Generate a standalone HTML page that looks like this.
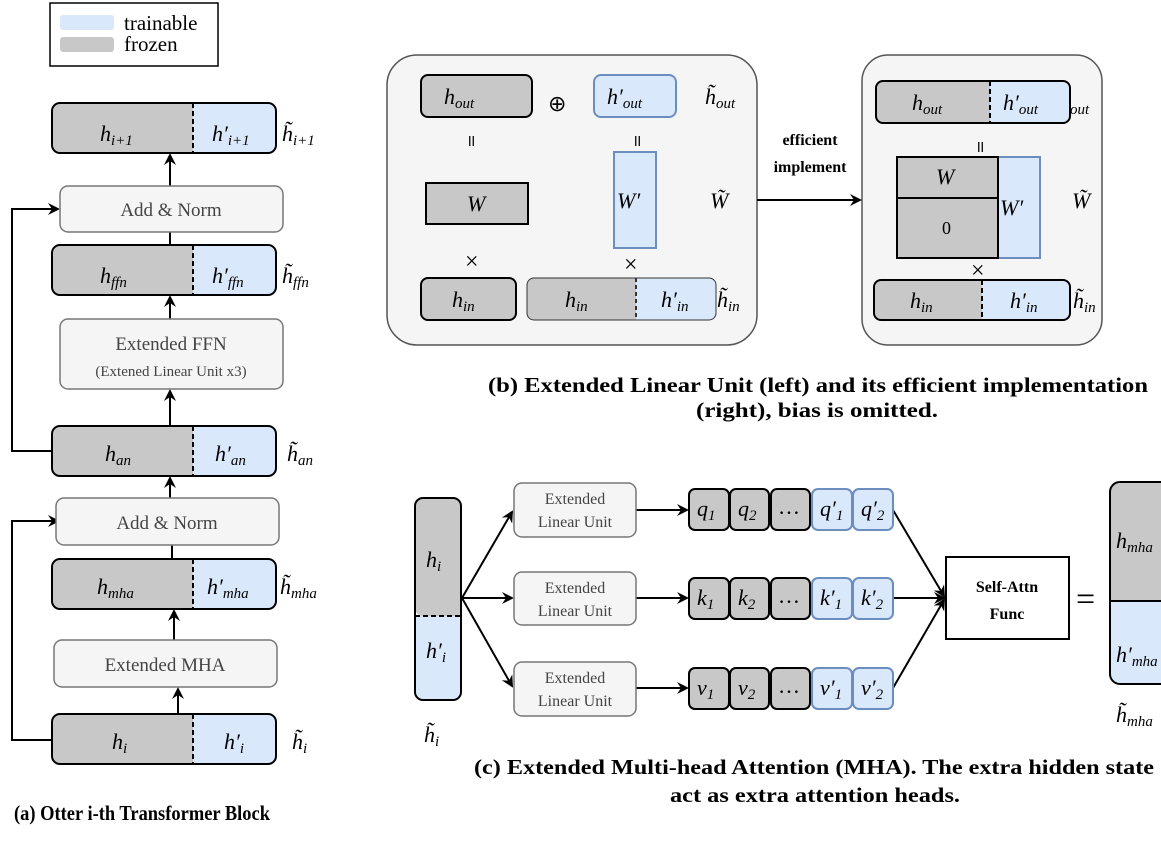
<!DOCTYPE html>
<html><head><meta charset="utf-8"><style>
body{margin:0;background:#fff}
svg text{font-family:"Liberation Serif",serif}
.m{font-style:italic;font-size:22px}
.s{font-size:15px}
.t{fill:#444;font-size:19px}
.b{font-weight:bold;font-size:21px}
</style></head><body>
<svg width="1161" height="836" viewBox="0 0 1161 836" xmlns="http://www.w3.org/2000/svg">
<defs><marker id="a" markerWidth="12" markerHeight="12" refX="10" refY="6" orient="auto" markerUnits="userSpaceOnUse"><path d="M0,0 L12,6 L0,12 L4,6 z" fill="#000"/></marker></defs>
<!-- legend -->
<rect x="50" y="3" width="168" height="63" fill="#fff" stroke="#000" stroke-width="1.5"/>
<rect x="60" y="15" width="54" height="15" rx="3" fill="#dae8fc"/>
<rect x="60" y="37" width="54" height="15" rx="3" fill="#c8c8c8"/>
<text x="124" y="30" font-size="21">trainable</text>
<text x="124" y="51" font-size="21">frozen</text>

<!-- panel a -->
<g stroke="#000" stroke-width="2" fill="none">
<path d="M52,740 H12 V521 H58" marker-end="url(#a)"/>
<path d="M52,451 H12 V209 H58" marker-end="url(#a)"/>
<path d="M178,714 V689" marker-end="url(#a)"/>
<path d="M174,640 V611" marker-end="url(#a)"/>
<path d="M172,559 V545"/>
<path d="M170,498 V478" marker-end="url(#a)"/>
<path d="M170,426 V391" marker-end="url(#a)"/>
<path d="M170,319 V297" marker-end="url(#a)"/>
<path d="M170,245 V232"/>
<path d="M170,186 V155" marker-end="url(#a)"/>
</g>
<g stroke-width="2">
<g>
<path d="M193,103 H60 a8,8 0 0 0 -8,8 V145 a8,8 0 0 0 8,8 H193z" fill="#c8c8c8"/><path d="M193,103 H268 a8,8 0 0 1 8,8 V145 a8,8 0 0 1 -8,8 H193z" fill="#dae8fc"/>
<rect x="52" y="103" width="224" height="50" rx="8" fill="none" stroke="#000"/><line x1="193" y1="103" x2="193" y2="153" stroke="#000" stroke-dasharray="5,3"/>
</g>
<g transform="translate(0,142)">
<path d="M193,103 H60 a8,8 0 0 0 -8,8 V145 a8,8 0 0 0 8,8 H193z" fill="#c8c8c8"/><path d="M193,103 H268 a8,8 0 0 1 8,8 V145 a8,8 0 0 1 -8,8 H193z" fill="#dae8fc"/>
<rect x="52" y="103" width="224" height="50" rx="8" fill="none" stroke="#000"/><line x1="193" y1="103" x2="193" y2="153" stroke="#000" stroke-dasharray="5,3"/>
</g>
<g transform="translate(0,323)">
<path d="M193,103 H60 a8,8 0 0 0 -8,8 V145 a8,8 0 0 0 8,8 H193z" fill="#c8c8c8"/><path d="M193,103 H268 a8,8 0 0 1 8,8 V145 a8,8 0 0 1 -8,8 H193z" fill="#dae8fc"/>
<rect x="52" y="103" width="224" height="50" rx="8" fill="none" stroke="#000"/><line x1="193" y1="103" x2="193" y2="153" stroke="#000" stroke-dasharray="5,3"/>
</g>
<g transform="translate(0,456)">
<path d="M193,103 H60 a8,8 0 0 0 -8,8 V145 a8,8 0 0 0 8,8 H193z" fill="#c8c8c8"/><path d="M193,103 H268 a8,8 0 0 1 8,8 V145 a8,8 0 0 1 -8,8 H193z" fill="#dae8fc"/>
<rect x="52" y="103" width="224" height="50" rx="8" fill="none" stroke="#000"/><line x1="193" y1="103" x2="193" y2="153" stroke="#000" stroke-dasharray="5,3"/>
</g>
<g transform="translate(0,611)">
<path d="M193,103 H60 a8,8 0 0 0 -8,8 V145 a8,8 0 0 0 8,8 H193z" fill="#c8c8c8"/><path d="M193,103 H268 a8,8 0 0 1 8,8 V145 a8,8 0 0 1 -8,8 H193z" fill="#dae8fc"/>
<rect x="52" y="103" width="224" height="50" rx="8" fill="none" stroke="#000"/><line x1="193" y1="103" x2="193" y2="153" stroke="#000" stroke-dasharray="5,3"/>
</g>
</g>
<g fill="#f5f5f5" stroke="#777" stroke-width="1.5">
<rect x="60" y="186" width="223" height="46" rx="8"/>
<rect x="60" y="319" width="223" height="70" rx="8"/>
<rect x="56" y="498" width="223" height="47" rx="8"/>
<rect x="54" y="640" width="223" height="47" rx="8"/>
</g>
<text class="t" x="171" y="216" text-anchor="middle">Add &amp; Norm</text>
<text class="t" x="171" y="350" text-anchor="middle">Extended FFN</text>
<text x="171" y="376" text-anchor="middle" font-size="15" fill="#444">(Extened Linear Unit x3)</text>
<text class="t" x="167" y="529" text-anchor="middle">Add &amp; Norm</text>
<text class="t" x="165" y="671" text-anchor="middle">Extended MHA</text>
<g class="m">
<text x="100" y="141">h<tspan class="s" dy="4">i+1</tspan></text>
<text x="212" y="141">h′<tspan class="s" dy="4">i+1</tspan></text>
<text x="282" y="141">h̃<tspan class="s" dy="4">i+1</tspan></text>
<text x="100" y="283">h<tspan class="s" dy="4">ffn</tspan></text>
<text x="212" y="283">h′<tspan class="s" dy="4">ffn</tspan></text>
<text x="282" y="283">h̃<tspan class="s" dy="4">ffn</tspan></text>
<text x="105" y="461">h<tspan class="s" dy="4">an</tspan></text>
<text x="215" y="461">h′<tspan class="s" dy="4">an</tspan></text>
<text x="287" y="461">h̃<tspan class="s" dy="4">an</tspan></text>
<text x="97" y="594">h<tspan class="s" dy="4">mha</tspan></text>
<text x="207" y="594">h′<tspan class="s" dy="4">mha</tspan></text>
<text x="280" y="594">h̃<tspan class="s" dy="4">mha</tspan></text>
<text x="112" y="749">h<tspan class="s" dy="4">i</tspan></text>
<text x="224" y="749">h′<tspan class="s" dy="4">i</tspan></text>
<text x="292" y="749">h̃<tspan class="s" dy="4">i</tspan></text>
</g>
<text class="b" x="14" y="820" textLength="256" lengthAdjust="spacingAndGlyphs">(a) Otter i-th Transformer Block</text>

<!-- panel b -->
<rect x="387" y="55" width="370" height="290" rx="30" fill="#f5f5f5" stroke="#555" stroke-width="1.5"/>
<rect x="862" y="55" width="240" height="290" rx="26" fill="#f5f5f5" stroke="#555" stroke-width="1.5"/>
<path d="M757,200 H860" stroke="#000" stroke-width="2" marker-end="url(#a)"/>
<text x="810" y="145" text-anchor="middle" font-size="16" font-weight="bold">efficient</text>
<text x="810" y="172" text-anchor="middle" font-size="16" font-weight="bold">implement</text>
<g stroke-width="2">
<rect x="421" y="75" width="111" height="42" rx="7" fill="#c8c8c8" stroke="#000"/>
<rect x="594" y="75" width="82" height="42" rx="7" fill="#dae8fc" stroke="#6c8ebf"/>
<rect x="426" y="183" width="102" height="41" fill="#c8c8c8" stroke="#000"/>
<rect x="614" y="152" width="42" height="96" fill="#dae8fc" stroke="#6c8ebf"/>
<rect x="421" y="278" width="95" height="42" rx="7" fill="#c8c8c8" stroke="#000"/>
<path d="M636,278 H534 a7,7 0 0 0 -7,7 V313 a7,7 0 0 0 7,7 H636z" fill="#c8c8c8"/>
<path d="M636,278 H709 a7,7 0 0 1 7,7 V313 a7,7 0 0 1 -7,7 H636z" fill="#dae8fc"/>
<rect x="527" y="278" width="189" height="42" rx="7" fill="none" stroke="#333" stroke-width="1"/>
<line x1="636" y1="278" x2="636" y2="320" stroke="#333" stroke-dasharray="4,3"/>
<path d="M990,81 H883 a7,7 0 0 0 -7,7 V116 a7,7 0 0 0 7,7 H990z" fill="#c8c8c8"/>
<path d="M990,81 H1063 a7,7 0 0 1 7,7 V116 a7,7 0 0 1 -7,7 H990z" fill="#dae8fc"/>
<rect x="876" y="81" width="194" height="42" rx="7" fill="none" stroke="#000"/>
<line x1="990" y1="81" x2="990" y2="123" stroke="#000" stroke-dasharray="5,3"/>
<rect x="998" y="157" width="42" height="101" fill="#dae8fc" stroke="#6c8ebf"/>
<rect x="897" y="157" width="101" height="41" fill="#c8c8c8" stroke="#000"/>
<rect x="897" y="198" width="101" height="60" fill="#c8c8c8" stroke="#000"/>
<path d="M982,280 H881 a7,7 0 0 0 -7,7 V313 a7,7 0 0 0 7,7 H982z" fill="#c8c8c8"/>
<path d="M982,280 H1063 a7,7 0 0 1 7,7 V313 a7,7 0 0 1 -7,7 H982z" fill="#dae8fc"/>
<rect x="874" y="280" width="196" height="40" rx="7" fill="none" stroke="#000"/>
<line x1="982" y1="280" x2="982" y2="320" stroke="#000" stroke-dasharray="5,3"/>
</g>
<g class="m">
<text x="444" y="104">h<tspan class="s" dy="4">out</tspan></text>
<text x="607" y="104">h′<tspan class="s" dy="4">out</tspan></text>
<text x="705" y="104">h̃<tspan class="s" dy="4">out</tspan></text>
<text x="467" y="211">W</text><text x="617" y="208">W′</text><text x="710" y="208">W̃</text>
<text x="452" y="307">h<tspan class="s" dy="4">in</tspan></text>
<text x="565" y="307">h<tspan class="s" dy="4">in</tspan></text>
<text x="661" y="307">h′<tspan class="s" dy="4">in</tspan></text>
<text x="717" y="307">h̃<tspan class="s" dy="4">in</tspan></text>
<text x="912" y="110">h<tspan class="s" dy="4">out</tspan></text>
<text x="1003" y="110">h′<tspan class="s" dy="4">out</tspan></text>
<text x="1070" y="114" class="s">out</text>
<text x="936" y="184">W</text><text x="1000" y="215">W′</text><text x="1072" y="208">W̃</text>
<text x="910" y="308">h<tspan class="s" dy="4">in</tspan></text>
<text x="1010" y="308">h′<tspan class="s" dy="4">in</tspan></text>
<text x="1073" y="308">h̃<tspan class="s" dy="4">in</tspan></text>
</g>
<text x="942" y="234" font-size="18">0</text>
<text x="548" y="111" font-size="22">⊕</text>
<g font-size="16"><text x="466" y="146">॥</text><text x="632" y="146">॥</text><text x="975" y="152">॥</text></g>
<g font-size="24"><text x="465" y="269">×</text><text x="624" y="272">×</text><text x="971" y="278">×</text></g>
<text class="b" x="488" y="392" textLength="660" lengthAdjust="spacingAndGlyphs">(b) Extended Linear Unit (left) and its efficient implementation</text>
<text class="b" x="696" y="417" textLength="242" lengthAdjust="spacingAndGlyphs">(right), bias is omitted.</text>

<!-- panel c -->
<path d="M461,616 H423 a8,8 0 0 1 -8,-8 V506 a8,8 0 0 1 8,-8 H453 a8,8 0 0 1 8,8z" fill="#c8c8c8"/>
<path d="M415,616 H461 V692 a8,8 0 0 1 -8,8 H423 a8,8 0 0 1 -8,-8z" fill="#dae8fc"/>
<rect x="415" y="498" width="46" height="202" rx="8" fill="none" stroke="#000" stroke-width="2"/>
<line x1="415" y1="616" x2="461" y2="616" stroke="#000" stroke-width="2" stroke-dasharray="5,3"/>
<g class="m"><text x="426" y="567">h<tspan class="s" dy="4">i</tspan></text><text x="426" y="658">h′<tspan class="s" dy="4">i</tspan></text><text x="424" y="742">h̃<tspan class="s" dy="4">i</tspan></text></g>
<g stroke="#000" stroke-width="2" fill="none">
<path d="M462,598 L512,512" marker-end="url(#a)"/><path d="M462,598 H512" marker-end="url(#a)"/><path d="M462,598 L512,686" marker-end="url(#a)"/>
<path d="M636,510 H687" marker-end="url(#a)"/><path d="M636,598 H687" marker-end="url(#a)"/><path d="M636,688 H687" marker-end="url(#a)"/>
<path d="M893,510 L944,596" marker-end="url(#a)"/><path d="M893,598 H944" marker-end="url(#a)"/><path d="M893,688 L944,600" marker-end="url(#a)"/>
</g>
<g fill="#f5f5f5" stroke="#777" stroke-width="1.5">
<rect x="514" y="483" width="122" height="54" rx="8"/><rect x="514" y="572" width="122" height="53" rx="8"/><rect x="514" y="662" width="122" height="54" rx="8"/>
</g>
<g fill="#444" font-size="16" text-anchor="middle">
<text x="575" y="504">Extended</text><text x="575" y="527">Linear Unit</text>
<text x="575" y="593">Extended</text><text x="575" y="616">Linear Unit</text>
<text x="575" y="683">Extended</text><text x="575" y="706">Linear Unit</text>
</g>
<g stroke-width="2">
<g>
<rect x="689" y="489" width="40" height="41" rx="6" fill="#c8c8c8" stroke="#000"/>
<rect x="730" y="489" width="39" height="41" rx="6" fill="#c8c8c8" stroke="#000"/>
<rect x="771" y="489" width="39" height="41" rx="6" fill="#c8c8c8" stroke="#000"/>
<rect x="812" y="489" width="40" height="41" rx="6" fill="#dae8fc" stroke="#6c8ebf"/>
<rect x="853" y="489" width="40" height="41" rx="6" fill="#dae8fc" stroke="#6c8ebf"/>
</g>
<g transform="translate(0,89)"><rect x="689" y="489" width="40" height="41" rx="6" fill="#c8c8c8" stroke="#000"/><rect x="730" y="489" width="39" height="41" rx="6" fill="#c8c8c8" stroke="#000"/><rect x="771" y="489" width="39" height="41" rx="6" fill="#c8c8c8" stroke="#000"/><rect x="812" y="489" width="40" height="41" rx="6" fill="#dae8fc" stroke="#6c8ebf"/><rect x="853" y="489" width="40" height="41" rx="6" fill="#dae8fc" stroke="#6c8ebf"/></g>
<g transform="translate(0,179)"><rect x="689" y="489" width="40" height="41" rx="6" fill="#c8c8c8" stroke="#000"/><rect x="730" y="489" width="39" height="41" rx="6" fill="#c8c8c8" stroke="#000"/><rect x="771" y="489" width="39" height="41" rx="6" fill="#c8c8c8" stroke="#000"/><rect x="812" y="489" width="40" height="41" rx="6" fill="#dae8fc" stroke="#6c8ebf"/><rect x="853" y="489" width="40" height="41" rx="6" fill="#dae8fc" stroke="#6c8ebf"/></g>
</g>
<g class="m" font-size="20">
<text x="697" y="516">q<tspan class="s" dy="4">1</tspan></text><text x="738" y="516">q<tspan class="s" dy="4">2</tspan></text><text x="778" y="514" style="font-style:normal">…</text><text x="820" y="516">q′<tspan class="s" dy="4">1</tspan></text><text x="861" y="516">q′<tspan class="s" dy="4">2</tspan></text>
<text x="697" y="605">k<tspan class="s" dy="4">1</tspan></text><text x="738" y="605">k<tspan class="s" dy="4">2</tspan></text><text x="778" y="603" style="font-style:normal">…</text><text x="820" y="605">k′<tspan class="s" dy="4">1</tspan></text><text x="861" y="605">k′<tspan class="s" dy="4">2</tspan></text>
<text x="697" y="695">v<tspan class="s" dy="4">1</tspan></text><text x="738" y="695">v<tspan class="s" dy="4">2</tspan></text><text x="778" y="693" style="font-style:normal">…</text><text x="820" y="695">v′<tspan class="s" dy="4">1</tspan></text><text x="861" y="695">v′<tspan class="s" dy="4">2</tspan></text>
</g>
<rect x="946" y="557" width="123" height="82" fill="#fff" stroke="#000" stroke-width="2"/>
<text x="1007" y="592" text-anchor="middle" font-weight="bold" font-size="16">Self-Attn</text>
<text x="1007" y="619" text-anchor="middle" font-weight="bold" font-size="16">Func</text>
<text x="1076" y="610" font-size="34">=</text>
<path d="M1170,601 H1110 V492 a10,10 0 0 1 10,-10 H1170z" fill="#c8c8c8" stroke="#000" stroke-width="2"/>
<path d="M1170,601 H1110 V674 a10,10 0 0 0 10,10 H1170z" fill="#dae8fc" stroke="#000" stroke-width="2"/>
<line x1="1110" y1="601" x2="1161" y2="601" stroke="#000" stroke-width="2" stroke-dasharray="5,3"/>
<g class="m"><text x="1116" y="548">h<tspan class="s" dy="4">mha</tspan></text><text x="1116" y="662">h′<tspan class="s" dy="4">mha</tspan></text><text x="1116" y="722">h̃<tspan class="s" dy="4">mha</tspan></text></g>
<text class="b" x="474" y="774" textLength="680" lengthAdjust="spacingAndGlyphs">(c) Extended Multi-head Attention (MHA). The extra hidden state</text>
<text class="b" x="670" y="802" textLength="290" lengthAdjust="spacingAndGlyphs">act as extra attention heads.</text>
</svg>
</body></html>
